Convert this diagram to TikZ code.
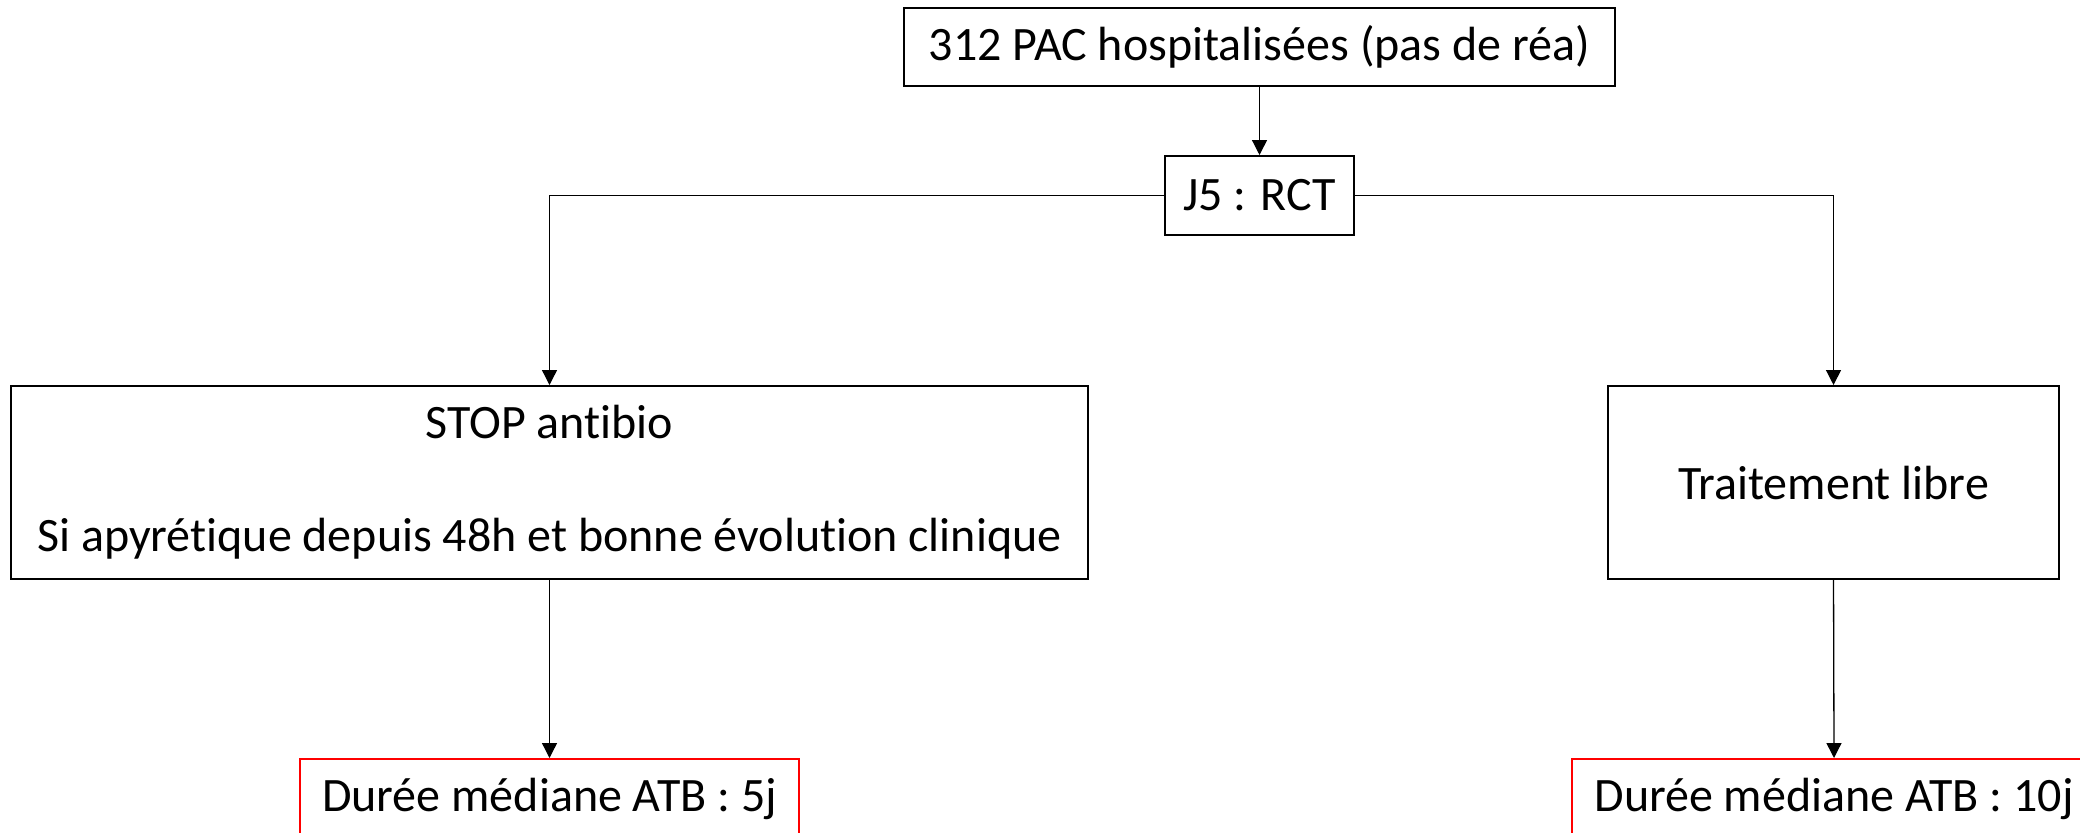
\documentclass[tikz,border=0pt]{standalone}
\usepackage{fontspec}
\setmainfont{Carlito}[Ligatures=NoCommon]
\usetikzlibrary{arrows.meta}

\tikzset{
  box/.style={draw=black, line width=1pt, fill=white, inner sep=0pt,
              font=\fontsize{24}{28.5}\selectfont, align=center},
  resultbox/.style={box, draw=red},
  arr/.style={line width=0.65pt, -{Triangle[length=7.5pt,width=7.5pt]}}
}

\begin{document}
\begin{tikzpicture}[x=0.5pt,y=-0.5pt]
  \clip (0,0) rectangle (2080,832);
  \fill[white] (0,0) rectangle (2080,832);

  % study population and randomisation
  \node[box, minimum width=355.5pt, minimum height=39pt] (pop) at (1259.5,47)
    {312 PAC hospitalisées (pas de réa)};
  \node[box, minimum width=94.5pt, minimum height=39.5pt] (rct) at (1259.5,195.5)
    {J5 : RCT};

  % the two arms
  \node[box, minimum width=538.5pt, minimum height=96.5pt] (stop) at (549.5,482.5)
    {\rule{0pt}{5pt}STOP antibio\\[28pt]Si apyrétique depuis 48h et bonne évolution clinique};
  \node[box, minimum width=225.5pt, minimum height=96.5pt] (libre) at (1833.5,482.5)
    {Traitement libre};

  % outcomes
  \node[resultbox, minimum width=249.5pt, minimum height=40pt] (res5) at (549.5,799)
    {Durée médiane ATB : 5j};
  \node[resultbox, minimum width=262pt, minimum height=40pt] (res10) at (1834,799)
    {Durée médiane ATB : 10j};

  % connectors
  \draw[arr] (pop.south) -- (rct.north);
  \draw[arr] (rct.west) -| (stop.north);
  \draw[arr] (rct.east) -| (libre.north);
  \draw[arr] (stop.south) -- (res5.north);
  \draw[arr] (libre.south) -- (res10.north);
\end{tikzpicture}
\end{document}
